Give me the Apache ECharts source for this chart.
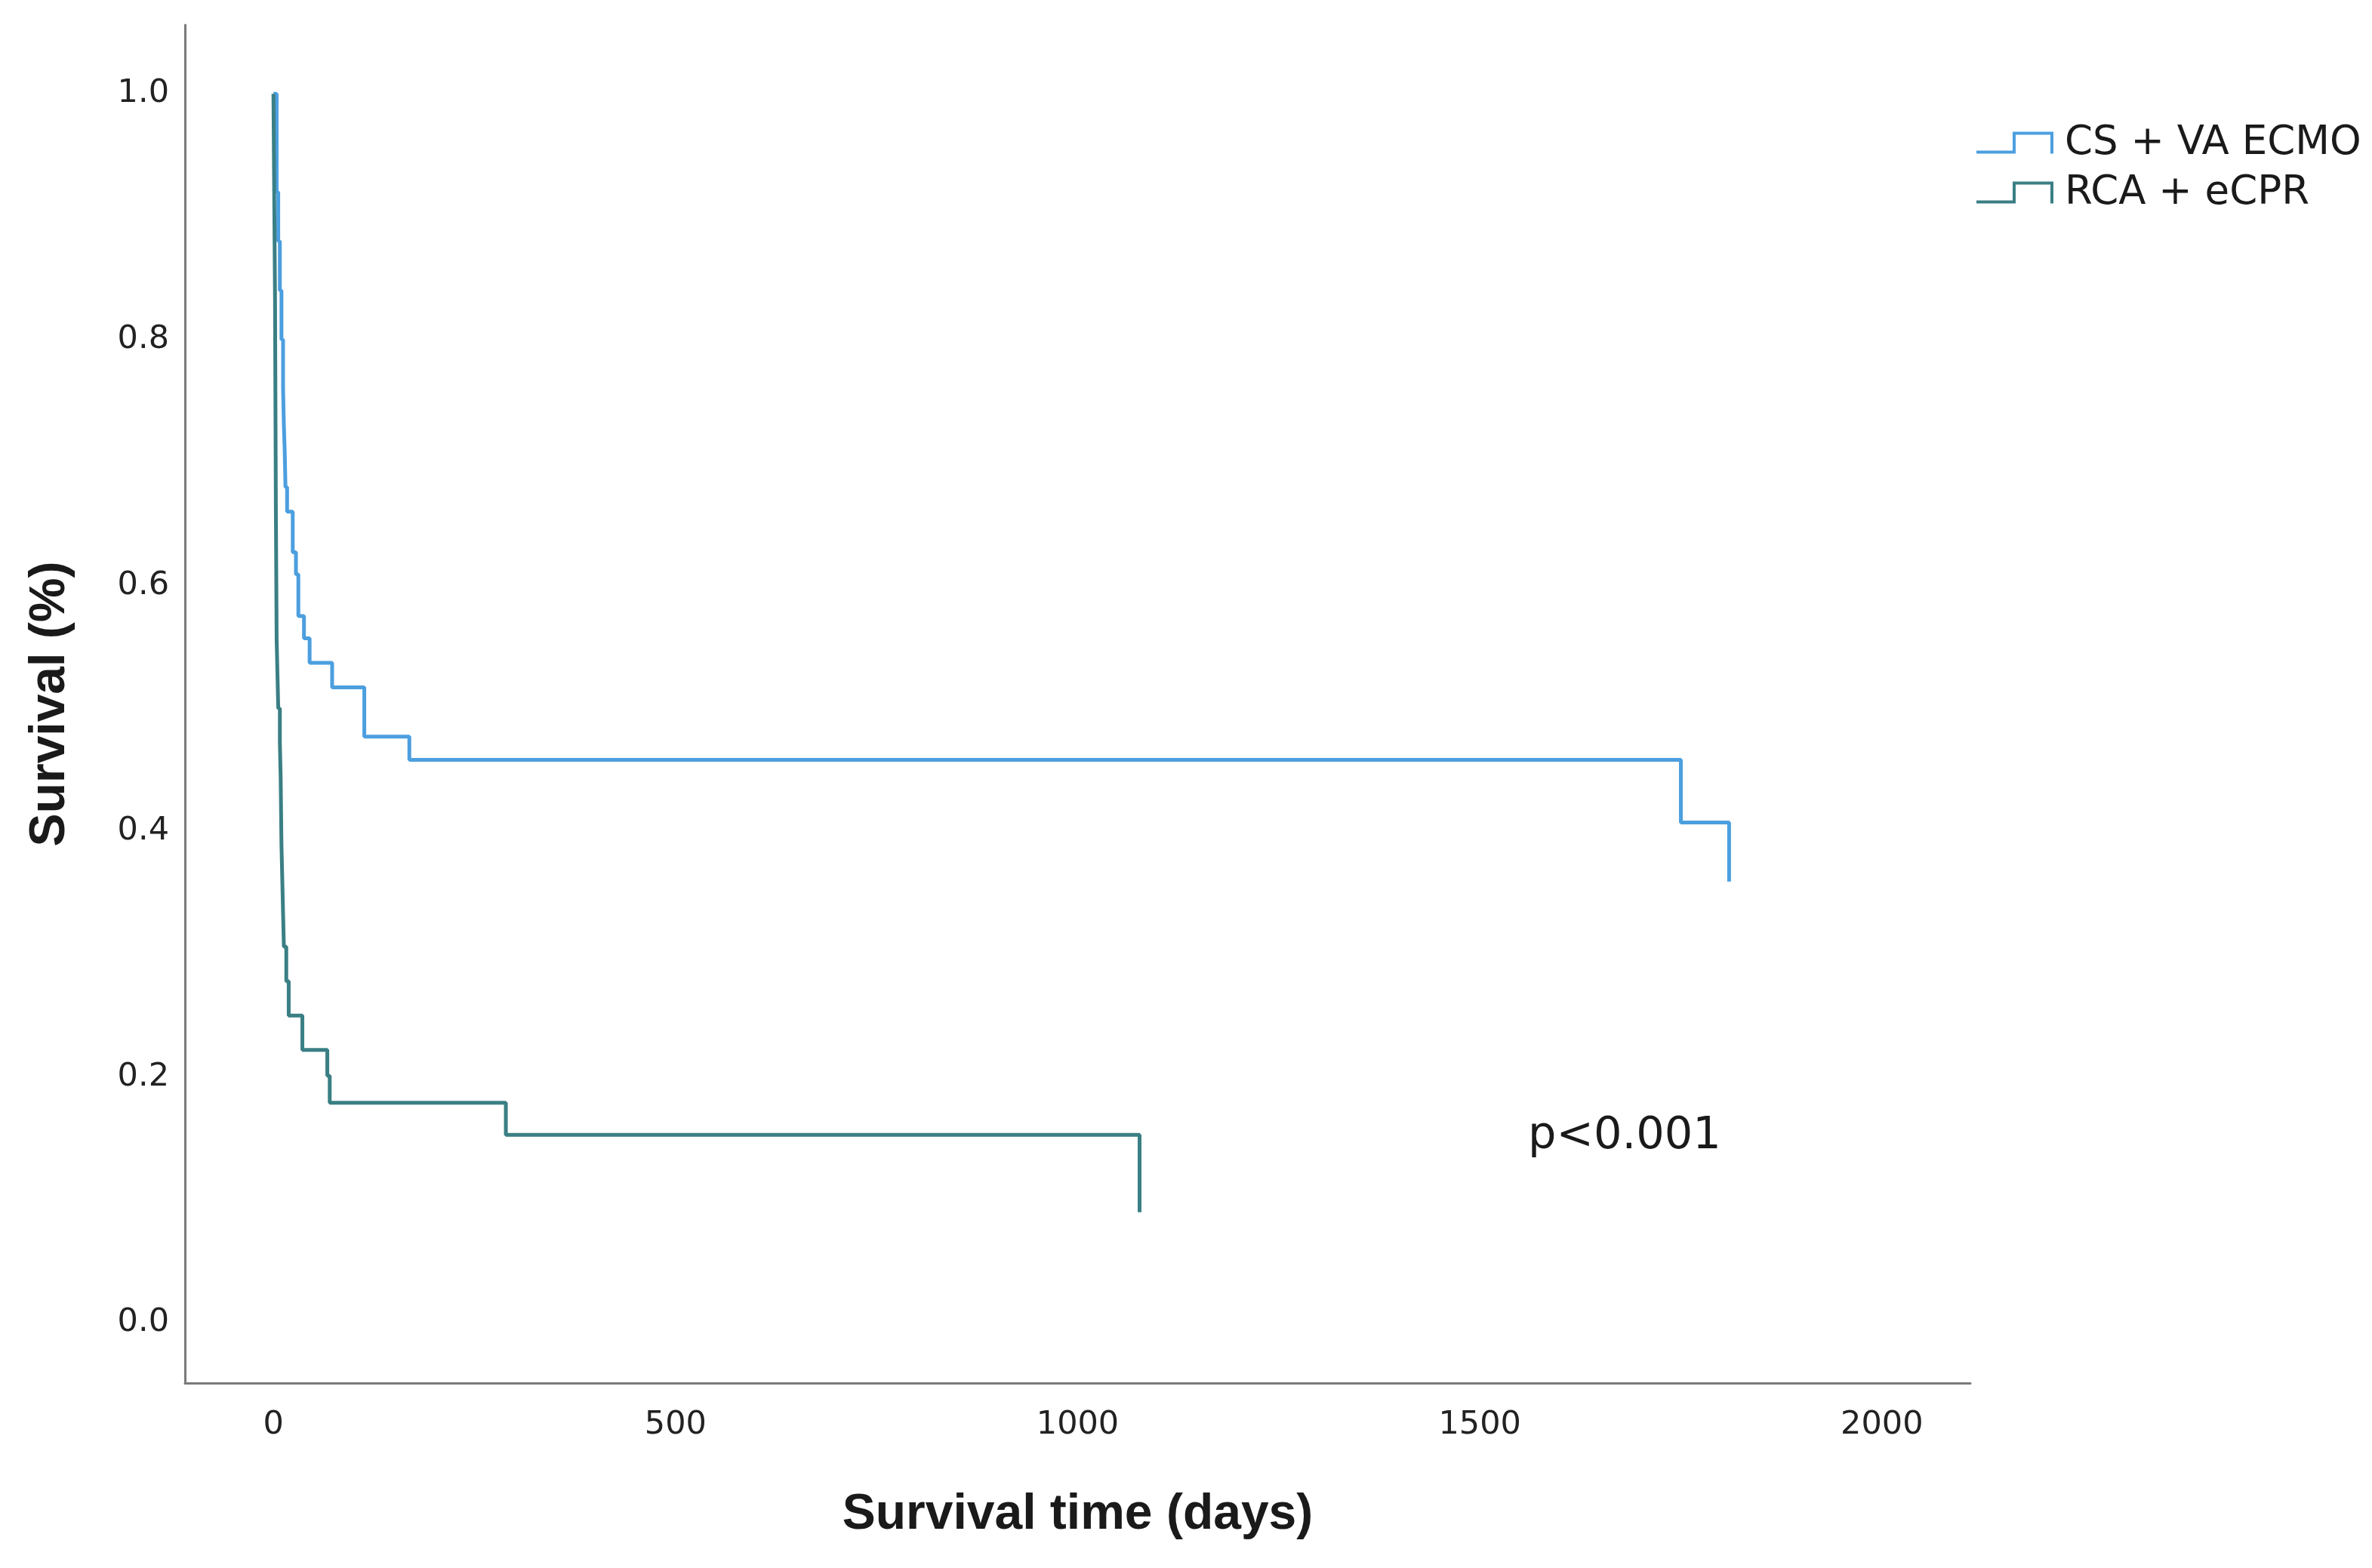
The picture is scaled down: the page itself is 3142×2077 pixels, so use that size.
<!DOCTYPE html>
<html>
<head>
<meta charset="utf-8">
<script src="https://cdn.jsdelivr.net/npm/echarts@6/dist/echarts.min.js"></script>
<style>
html,body{margin:0;padding:0;background:#fff;}
#chart{width:3142px;height:2077px;}
</style>
</head>
<body>
<div id="chart"></div>
<script>
// ---- data ----
const seriesNames = ['CS + VA ECMO', 'RCA + eCPR'];
const xTicks = [0, 500, 1000, 1500, 2000];
const yTicks = [0, 0.2, 0.4, 0.6, 0.8, 1.0];
// CS + VA ECMO : event times (days) and survival after each event
const csDays = [0, 4, 6, 8, 10, 12, 13, 14, 15, 17, 24, 28, 31, 38, 45, 73, 113, 169, 1750, 1810];
const csSurv = [1.0, 0.92, 0.88, 0.84, 0.80, 0.76, 0.73, 0.71, 0.68, 0.66, 0.627, 0.609, 0.575, 0.557, 0.537, 0.517, 0.477, 0.458, 0.407, 0.359];
// RCA + eCPR
const rcaDays = [0, 1, 2, 2.5, 3, 3.5, 4, 5, 6, 8, 9, 10, 11, 12, 13, 16, 19, 36, 67, 70, 289, 1077];
const rcaSurv = [1.0, 0.917, 0.833, 0.75, 0.667, 0.611, 0.556, 0.528, 0.50, 0.472, 0.444, 0.389, 0.361, 0.333, 0.306, 0.278, 0.250, 0.222, 0.201, 0.179, 0.153, 0.090];
const pText = 'p<0.001';
const xTitle = 'Survival time (days)';
const yTitle = 'Survival (%)';

const blue = '#4C9FDF';
const teal = '#3A7F84';

const zip = (a, b) => a.map((v, i) => [v, b[i]]);
const stepIcon = 'path://M0,27 L50,27 L50,2 L100,2 L100,29';

const chart = echarts.init(document.getElementById('chart'), null, {renderer: 'canvas'});
chart.setOption({
  backgroundColor: '#ffffff',
  animation: false,
  grid: {left: 245, right: 532, top: 33, bottom: 245},
  legend: {
    orient: 'vertical',
    left: 2616,
    top: 162,
    padding: 0,
    itemGap: 10,
    itemWidth: 100,
    itemHeight: 28,
    icon: stepIcon,
    textStyle: {fontFamily: 'DejaVu Sans', fontSize: 53, lineHeight: 56, color: '#1a1a1a', padding: [0, 0, 0, 12]},
    data: [
      {name: seriesNames[0], itemStyle: {color: 'transparent', borderColor: blue, borderWidth: 4}},
      {name: seriesNames[1], itemStyle: {color: 'transparent', borderColor: teal, borderWidth: 4}}
    ]
  },
  xAxis: {
    type: 'value',
    min: -110,
    max: 2110,
    name: xTitle,
    nameLocation: 'middle',
    nameGap: 142,
    nameTextStyle: {fontFamily: 'Liberation Sans', fontWeight: 'bold', fontSize: 66, color: '#1a1a1a'},
    axisLine: {show: true, onZero: false, lineStyle: {color: '#7a7a7a', width: 3}},
    axisTick: {show: false},
    splitLine: {show: false},
    axisLabel: {
      customValues: xTicks,
      formatter: v => String(v),
      margin: 34,
      fontFamily: 'DejaVu Sans',
      fontSize: 43,
      color: '#222'
    }
  },
  yAxis: {
    type: 'value',
    min: -0.049,
    max: 1.056,
    name: yTitle,
    nameLocation: 'middle',
    nameGap: 145,
    nameRotate: 90,
    nameTextStyle: {fontFamily: 'Liberation Sans', fontWeight: 'bold', fontSize: 66, color: '#1a1a1a'},
    axisLine: {show: true, onZero: false, lineStyle: {color: '#7a7a7a', width: 3}},
    axisTick: {show: false},
    splitLine: {show: false},
    axisLabel: {
      customValues: yTicks,
      formatter: v => v.toFixed(1),
      margin: 21,
      padding: [10, 0, 0, 0],
      fontFamily: 'DejaVu Sans',
      fontSize: 43,
      color: '#222'
    }
  },
  series: [
    {
      name: seriesNames[0],
      type: 'line',
      step: 'end',
      showSymbol: false,
      symbol: 'none',
      color: blue,
      lineStyle: {color: blue, width: 5},
      data: zip(csDays, csSurv)
    },
    {
      name: seriesNames[1],
      type: 'line',
      step: 'end',
      showSymbol: false,
      symbol: 'none',
      color: teal,
      lineStyle: {color: teal, width: 5},
      data: zip(rcaDays, rcaSurv)
    }
  ],
  graphic: [
    {
      type: 'text',
      left: 2024,
      top: 1476,
      style: {text: pText, fontFamily: 'DejaVu Sans', fontSize: 59, fill: '#1a1a1a'}
    }
  ]
});
</script>
</body>
</html>
